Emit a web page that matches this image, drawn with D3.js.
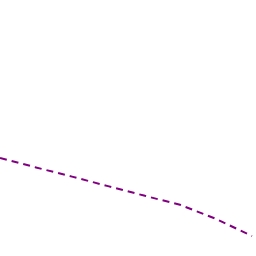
<!DOCTYPE html>
<html><head><meta charset="utf-8">
<script src="https://cdn.jsdelivr.net/npm/d3@7"></script>
<style>html,body{margin:0;padding:0;background:#fff;}svg{display:block;}</style>
</head><body>
<script>
const xs = [0, 1, 2, 3, 4, 5, 6, 7];
const values = [38.3, 34.6, 31.0, 27.3, 23.6, 20.0, 14.5, 7.8];
const W = 256, H = 256;
const svg = d3.select("body").append("svg").attr("width", W).attr("height", H);
const x = d3.scaleLinear().domain([0, 7]).range([0, 252]);
const y = d3.scaleLinear().domain([0, 100]).range([256, 0]);
const line = d3.line().x((d, i) => x(xs[i])).y(d => y(d));
svg.append("path").datum(values)
  .attr("d", line)
  .attr("fill", "none")
  .attr("stroke", "#800080")
  .attr("stroke-width", 2)
  .attr("stroke-dasharray", "7,5");
</script>
</body></html>
